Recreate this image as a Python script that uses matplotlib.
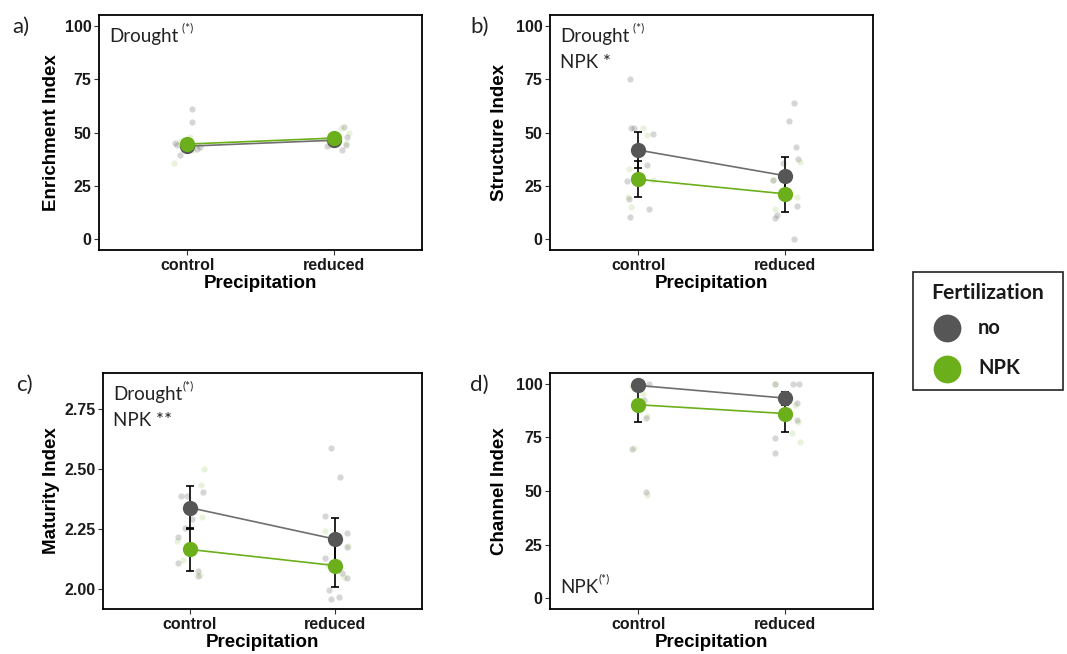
import matplotlib
matplotlib.use("Agg")
import matplotlib.pyplot as plt
from matplotlib.lines import Line2D
from matplotlib.patches import Rectangle

# categories
precip = ["control", "reduced"]
groups = ["no", "NPK"]

# group means and standard errors
enr_no = [43.6, 46.4]
enr_no_se = [1.5, 1.5]
enr_npk = [44.6, 47.4]
enr_npk_se = [1.5, 1.5]

str_no = [41.8, 29.8]
str_no_se = [8.5, 8.9]
str_npk = [28.1, 21.3]
str_npk_se = [8.5, 8.7]

mat_no = [2.339, 2.208]
mat_no_se = [0.09, 0.09]
mat_npk = [2.165, 2.098]
mat_npk_se = [0.09, 0.091]

cha_no = [99.2, 93.3]
cha_no_se = [0.8, 3.0]
cha_npk = [90.2, 86.1]
cha_npk_se = [8.1, 8.5]

# raw plot values (faint jittered points), with the jitter
enr_raw_no_c = [60.9, 54.7, 45.0, 44.3, 42.4, 43.0, 39.3]
enr_jit_no_c = [0.034, 0.034, -0.08, -0.068, 0.068, 0.09, -0.045]
enr_raw_npk_c = [35.7, 46.0, 44.0, 48.0, 42.0]
enr_jit_npk_c = [-0.09, -0.05, 0.07, 0.02, 0.04]
enr_raw_no_r = [52.8, 48.1, 44.3, 41.9, 46.0, 43.5]
enr_jit_no_r = [0.068, 0.09, 0.08, 0.057, 0.03, -0.05]
enr_raw_npk_r = [50.0, 47.0, 45.0, 52.0, 44.0]
enr_jit_npk_r = [0.1, -0.07, 0.08, 0.05, -0.03]

str_raw_no_c = [75.0, 52.3, 52.0, 49.2, 34.9, 14.3, 19.1, 10.6, 27.2]
str_jit_no_c = [-0.052, -0.048, -0.025, 0.102, 0.061, 0.077, -0.064, -0.057, -0.075]
str_raw_npk_c = [49.0, 52.0, 33.0, 20.0, 15.0, 28.0]
str_jit_npk_c = [0.06, 0.03, -0.06, -0.07, -0.05, 0.1]
str_raw_no_r = [63.7, 55.4, 43.2, 37.7, 27.9, 11.6, 10.1, 15.8, 0.0, 35.7]
str_jit_no_r = [0.061, 0.03, 0.075, 0.091, -0.08, -0.052, -0.068, 0.084, 0.061, -0.011]
str_raw_npk_r = [36.0, 28.0, 14.0, 20.0, 23.0]
str_jit_npk_r = [0.1, -0.08, -0.07, 0.08, 0.0]

mat_raw_no_c = [2.388, 2.388, 2.406, 2.29, 2.253, 2.218, 2.11, 2.075, 2.055]
mat_jit_no_c = [-0.064, -0.023, 0.091, 0.011, -0.034, -0.086, -0.086, 0.057, 0.057]
mat_raw_npk_c = [2.434, 2.30, 2.20, 2.12, 2.06, 2.50]
mat_jit_npk_c = [0.073, 0.08, -0.09, -0.05, 0.07, 0.1]
mat_raw_no_r = [2.587, 2.466, 2.306, 2.235, 2.176, 2.13, 2.065, 2.047, 1.995, 1.968, 1.957]
mat_jit_no_r = [-0.03, 0.034, -0.068, 0.08, 0.08, -0.068, 0.045, 0.084, -0.039, 0.03, -0.03]
mat_raw_npk_r = [2.24, 2.18, 2.10, 2.05]
mat_jit_npk_r = [-0.07, 0.09, -0.05, 0.06]

cha_raw_no_c = [99.7, 92.6, 84.2, 69.7, 49.7]
cha_jit_no_c = [0.073, 0.043, 0.057, -0.041, 0.057]
cha_raw_npk_c = [99.0, 95.0, 85.0, 70.0, 48.0]
cha_jit_npk_c = [-0.04, 0.03, 0.06, -0.03, 0.06]
cha_raw_no_r = [99.7, 99.7, 99.7, 91.2, 83.1, 74.6, 67.7]
cha_jit_no_r = [-0.068, 0.057, 0.098, 0.084, 0.08, -0.068, -0.068]
cha_raw_npk_r = [90.0, 82.0, 73.0, 100.0, 77.0]
cha_jit_npk_r = [0.07, 0.09, 0.1, -0.07, 0.05]

grey = "#565656"
green = "#6BAF1A"
line_grey = "#6E6E6E"

tick_font = "Liberation Sans"
note_font = "Lato"

W, H = 1067, 654
fig = plt.figure(figsize=(10.67, 6.54), dpi=100)

panels = [
    dict(rect=[0.0928, 0.6177, 0.3027, 0.3593], letter="a)", ylabel="Enrichment Index",
         no=enr_no, no_se=enr_no_se, npk=enr_npk, npk_se=enr_npk_se,
         raw=[(enr_raw_no_c, enr_jit_no_c, 0, grey), (enr_raw_npk_c, enr_jit_npk_c, 0, green),
              (enr_raw_no_r, enr_jit_no_r, 1, grey), (enr_raw_npk_r, enr_jit_npk_r, 1, green)],
         ylim=(-5, 105), yticks=[0, 25, 50, 75, 100], yfmt="{:.0f}", lab_x=-0.121,
         notes=[("Drought", " (*)", "top1")]),
    dict(rect=[0.5155, 0.6177, 0.3027, 0.3593], letter="b)", ylabel="Structure Index",
         no=str_no, no_se=str_no_se, npk=str_npk, npk_se=str_npk_se,
         raw=[(str_raw_no_c, str_jit_no_c, 0, grey), (str_raw_npk_c, str_jit_npk_c, 0, green),
              (str_raw_no_r, str_jit_no_r, 1, grey), (str_raw_npk_r, str_jit_npk_r, 1, green)],
         ylim=(-5, 105), yticks=[0, 25, 50, 75, 100], yfmt="{:.0f}", lab_x=-0.13,
         notes=[("Drought", " (*)", "top1"), ("NPK *", "", "top2")]),
    dict(rect=[0.0965, 0.0688, 0.2990, 0.3609], letter="c)", ylabel="Maturity Index",
         no=mat_no, no_se=mat_no_se, npk=mat_npk, npk_se=mat_npk_se,
         raw=[(mat_raw_no_c, mat_jit_no_c, 0, grey), (mat_raw_npk_c, mat_jit_npk_c, 0, green),
              (mat_raw_no_r, mat_jit_no_r, 1, grey), (mat_raw_npk_r, mat_jit_npk_r, 1, green)],
         ylim=(1.917, 2.90), yticks=[2.00, 2.25, 2.50, 2.75], yfmt="{:.2f}", lab_x=-0.135,
         notes=[("Drought", "(*)", "top1"), ("NPK **", "", "top2")]),
    dict(rect=[0.5155, 0.0688, 0.3027, 0.3609], letter="d)", ylabel="Channel Index",
         no=cha_no, no_se=cha_no_se, npk=cha_npk, npk_se=cha_npk_se,
         raw=[(cha_raw_no_c, cha_jit_no_c, 0, grey), (cha_raw_npk_c, cha_jit_npk_c, 0, green),
              (cha_raw_no_r, cha_jit_no_r, 1, grey), (cha_raw_npk_r, cha_jit_npk_r, 1, green)],
         ylim=(-5, 105), yticks=[0, 25, 50, 75, 100], yfmt="{:.0f}", lab_x=-0.13,
         notes=[("NPK", "(*)", "bottom")]),
]

note_y = {"top1": 0.945, "top2": 0.835, "bottom": 0.055}

for p in panels:
    ax = fig.add_axes(p["rect"])
    x = [0, 1]

    # faint raw observations
    for vals, jit, xc, col in p["raw"]:
        xs = [xc + j for j in jit]
        ax.plot(xs, vals, "o", color=col, ms=4.5, mew=0,
                alpha=0.24 if col == grey else 0.15, zorder=1)

    ax.plot(x, p["no"], color=line_grey, lw=1.2, zorder=2)
    ax.plot(x, p["npk"], color=green, lw=1.2, zorder=2)
    ax.errorbar(x, p["no"], yerr=p["no_se"], fmt="none", ecolor="black", elinewidth=1.2,
                capsize=3, capthick=1.2, zorder=3)
    ax.errorbar(x, p["npk"], yerr=p["npk_se"], fmt="none", ecolor="black", elinewidth=1.2,
                capsize=3, capthick=1.2, zorder=3)
    ax.plot(x, p["no"], "o", color=grey, ms=11, mew=0, zorder=4)
    ax.plot(x, p["npk"], "o", color=green, ms=11, mew=0, zorder=5)

    ax.set_xlim(-0.6, 1.6)
    ax.set_ylim(*p["ylim"])
    ax.set_xticks(x)
    ax.set_xticklabels(precip)
    ax.set_yticks(p["yticks"])
    ax.set_yticklabels([p["yfmt"].format(v) for v in p["yticks"]])
    for lab in ax.get_xticklabels() + ax.get_yticklabels():
        lab.set_fontfamily(tick_font)
        lab.set_fontweight("bold")
        lab.set_fontsize(11.5)
        lab.set_color("#1a1a1a")
    ax.tick_params(length=3.5, width=0.8, color="#333333", pad=2)
    for s in ax.spines.values():
        s.set_linewidth(1.3)
        s.set_color("black")

    ax.set_xlabel("Precipitation", fontfamily=tick_font, fontweight="bold", fontsize=13.5, labelpad=2)
    ax.set_ylabel(p["ylabel"], fontfamily=tick_font, fontweight="bold", fontsize=13.5)
    ax.yaxis.set_label_coords(p["lab_x"], 0.5)

    # statistics notes
    for main, sup, where in p["notes"]:
        va = "bottom" if where == "bottom" else "top"
        t = ax.text(0.032, note_y[where], main, transform=ax.transAxes, fontfamily=note_font,
                    fontsize=13.5, va=va, ha="left", color="#222222")
        if sup:
            ax.annotate(sup, xy=(1, 0.7), xycoords=t, fontfamily=note_font, fontsize=8.5,
                        va="bottom", ha="left", color="#222222")

    # panel letter
    fig.text(p["rect"][0] - 0.081 if p["letter"] in ("a)", "c)") else p["rect"][0] - 0.075,
             p["rect"][1] + p["rect"][3] - 0.003, p["letter"], fontfamily=note_font, fontsize=16,
             va="top", ha="left", color="#222222")

# legend, drawn by hand in pixel positions of the reference
fig.patches.append(Rectangle((913 / W, 1 - 390 / H), 150 / W, 118 / H, transform=fig.transFigure,
                             fill=False, edgecolor="#222222", linewidth=1.2))
fig.text(988 / W, 1 - 299 / H, "Fertilization", fontfamily=note_font, fontweight="bold",
         fontsize=15.2, ha="center", va="baseline", color="#1a1a1a")
for name, col, yc in zip(groups, [grey, green], [328, 369]):
    fig.lines.append(Line2D([947 / W], [1 - yc / H], marker="o", ls="none", color=col, ms=20, mew=0,
                            transform=fig.transFigure))
    fig.text(978 / W, 1 - (yc + 5.5) / H, name, fontfamily=note_font, fontweight="bold",
             fontsize=14.5, ha="left", va="baseline", color="#1a1a1a")

fig.savefig("out.png", dpi=100)
